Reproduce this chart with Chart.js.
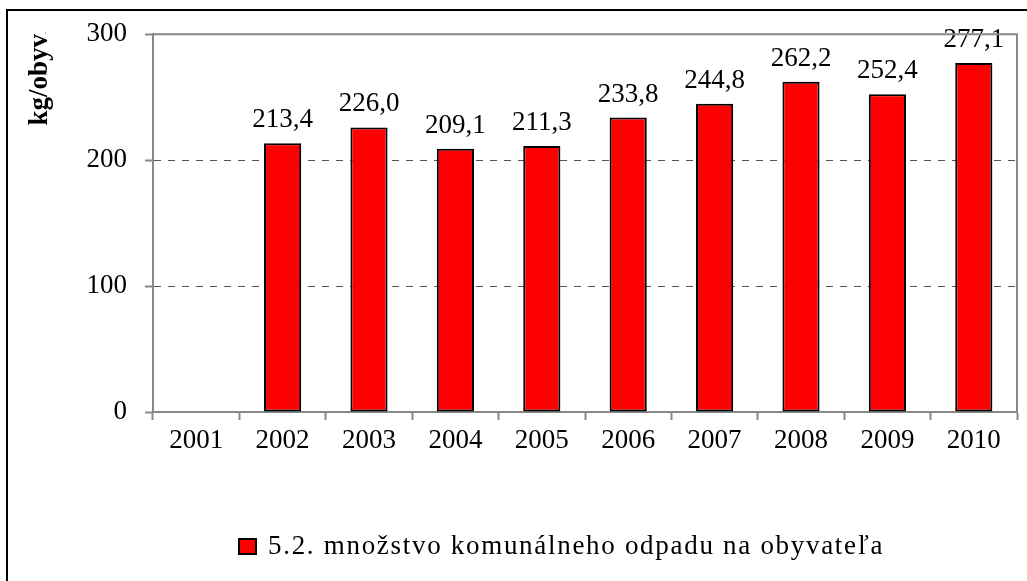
<!DOCTYPE html>
<html>
<head>
<meta charset="utf-8">
<script src="https://cdn.jsdelivr.net/npm/chart.js@4"></script>
<style>
  body { margin: 0; background: #fff; }
  #wrap { position: relative; width: 1027px; height: 581px; overflow: hidden; }
  #frame { position: absolute; left: 6px; top: 9px; width: 1100px; height: 700px; border: 2px solid #000; }
  #myChart { position: absolute; left: 0; top: 0; }
</style>
</head>
<body>
<div id="wrap">
  <div id="frame"></div>
  <canvas id="myChart" width="1027" height="581"></canvas>
</div>
<script>
var years = ['2001', '2002', '2003', '2004', '2005', '2006', '2007', '2008', '2009', '2010'];
var wastePerCapita = [null, 213.4, 226.0, 209.1, 211.3, 233.8, 244.8, 262.2, 252.4, 277.1];
var seriesName = '5.2. množstvo komunálneho odpadu na obyvateľa';
var yTicks = [0, 100, 200, 300];
var yTitle = 'kg/obyv';

var serif = '"Liberation Serif", "Times New Roman", serif';

// hodnoty nad stlpcami
var valueLabels = {
  id: 'valueLabels',
  afterDatasetsDraw: function(chart) {
    var ctx = chart.ctx;
    var meta = chart.getDatasetMeta(0);
    ctx.save();
    ctx.font = '27px ' + serif;
    ctx.fillStyle = '#000';
    ctx.textAlign = 'center';
    ctx.textBaseline = 'alphabetic';
    meta.data.forEach(function(bar, i) {
      var v = chart.data.datasets[0].data[i];
      if (v == null) return;
      ctx.fillText(v.toFixed(1).replace('.', ','), bar.x, bar.y - 16);
    });
    ctx.restore();
  }
};

// ram grafu hore a vpravo, titulok osi, legenda
var extras = {
  id: 'extras',
  afterDraw: function(chart) {
    var ctx = chart.ctx;
    var a = chart.chartArea;
    ctx.save();
    ctx.strokeStyle = '#888';
    ctx.lineWidth = 2;
    ctx.beginPath();
    ctx.moveTo(a.left, a.top);
    ctx.lineTo(a.right, a.top);
    ctx.lineTo(a.right, a.bottom);
    ctx.stroke();

    ctx.translate(40, 34);
    ctx.rotate(-Math.PI / 2);
    ctx.font = 'bold 27px ' + serif;
    ctx.fillStyle = '#000';
    ctx.textAlign = 'right';
    ctx.textBaseline = 'middle';
    ctx.fillText(yTitle, 0, 0);
    ctx.font = '8px ' + serif;
    ctx.textAlign = 'left';
    ctx.fillText('.', 0, 4);
    ctx.restore();

    var ds = chart.data.datasets[0];
    ctx.save();
    ctx.fillStyle = ds.backgroundColor;
    ctx.fillRect(239, 539, 17, 15);
    ctx.strokeStyle = '#000';
    ctx.lineWidth = 2;
    ctx.strokeRect(239, 539, 17, 15);
    ctx.font = '27px ' + serif;
    ctx.letterSpacing = '1.7px';
    ctx.fillStyle = '#000';
    ctx.textBaseline = 'alphabetic';
    ctx.fillText(ds.label, 268, 554);
    ctx.restore();
  }
};

var ctx = document.getElementById('myChart').getContext('2d');
var myChart = new Chart(ctx, {
  type: 'bar',
  data: {
    labels: years,
    datasets: [{
      label: seriesName,
      data: wastePerCapita,
      backgroundColor: '#ff0000',
      borderColor: '#000000',
      borderWidth: 2,
      borderSkipped: false,
      categoryPercentage: 1,
      barPercentage: 0.43
    }]
  },
  options: {
    responsive: false,
    animation: false,
    layout: { padding: { top: 32, right: 10, left: 0, bottom: 0 } },
    plugins: {
      legend: { display: false },
      tooltip: { enabled: false }
    },
    scales: {
      x: {
        afterFit: function(scale) { scale.height = 169; },
        grid: {
          offset: true,
          drawOnChartArea: false,
          tickLength: 8,
          tickColor: '#888',
          tickWidth: 2
        },
        border: { color: '#888', width: 2 },
        ticks: {
          color: '#000',
          font: { family: serif, size: 27 },
          padding: 5,
          maxRotation: 0
        }
      },
      y: {
        min: 0,
        max: 300,
        afterFit: function(scale) { scale.width = 153; },
        afterBuildTicks: function(scale) {
          scale.ticks = yTicks.map(function(v) { return { value: v }; });
        },
        grid: {
          color: '#555',
          lineWidth: 1,
          tickLength: 8,
          tickColor: '#888',
          tickWidth: 2
        },
        border: { color: '#888', width: 2, dash: [7, 7] },
        ticks: {
          color: '#000',
          font: { family: serif, size: 27 },
          padding: 18
        }
      }
    }
  },
  plugins: [valueLabels, extras]
});
</script>
</body>
</html>
